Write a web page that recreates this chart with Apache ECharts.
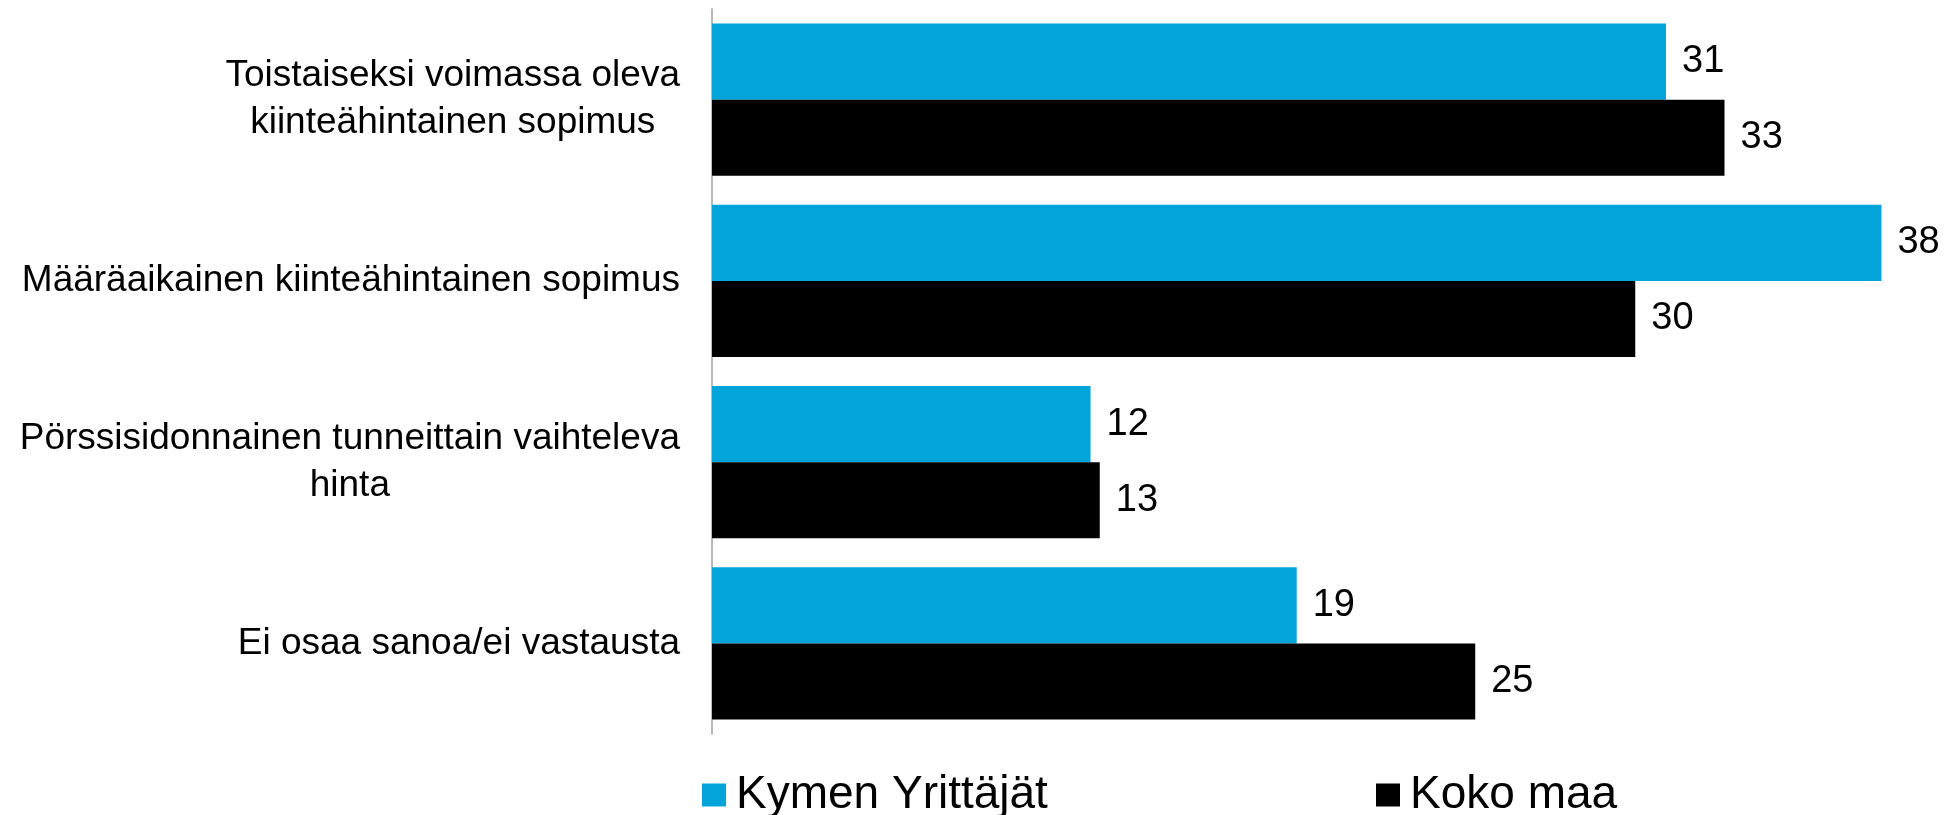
<!DOCTYPE html>
<html>
<head>
<meta charset="utf-8">
<script src="https://cdn.jsdelivr.net/npm/echarts@6/dist/echarts.min.js"></script>
<style>
  html, body { margin: 0; padding: 0; background: #fff; }
  #chart { width: 1957px; height: 815px; }
</style>
</head>
<body>
<div id="chart"></div>
<script>
  const categories = [
    'Toistaiseksi voimassa oleva\nkiinteähintainen sopimus',
    'Määräaikainen kiinteähintainen sopimus',
    'Pörssisidonnainen tunneittain vaihteleva\nhinta',
    'Ei osaa sanoa/ei vastausta'
  ]
  const seriesNames = ['Kymen Yrittäjät', 'Koko maa']
  const kymenValues = [31, 38, 12.3, 19]
  const kokoMaaValues = [32.9, 30, 12.6, 24.8]

  const font = '"Liberation Sans", Arial, sans-serif'
  const colors = ['#02a4d9', '#000000']

  const chart = echarts.init(document.getElementById('chart'))

  const makeSeries = (name, values, color) => ({
    name: name,
    type: 'bar',
    data: values,
    barGap: 0,
    barCategoryGap: '16%',
    itemStyle: { color: color },
    label: {
      show: true,
      position: 'right',
      distance: 16,
      color: '#000',
      fontFamily: font,
      fontSize: 38,
      formatter: (p) => Math.round(p.value)
    }
  })

  const legendBase = {
    top: 767,
    itemWidth: 24,
    itemHeight: 23,
    icon: 'rect',
    textStyle: {
      fontFamily: font,
      fontSize: 46,
      color: '#000',
      padding: [0, 0, 0, 5]
    }
  }

  const option = {
    animation: false,
    backgroundColor: '#fff',
    grid: { left: 712, right: 14, top: 9, bottom: 81, containLabel: false },
    legend: [
      Object.assign({}, legendBase, { left: 697, data: [seriesNames[0]] }),
      Object.assign({}, legendBase, { left: 1371, data: [seriesNames[1]] })
    ],
    xAxis: {
      type: 'value',
      min: 0,
      max: 40,
      axisLine: { show: false },
      axisTick: { show: false },
      axisLabel: { show: false },
      splitLine: { show: false }
    },
    yAxis: {
      type: 'category',
      inverse: true,
      data: categories,
      axisLine: { show: true, lineStyle: { color: '#a0a0a0', width: 1.5 } },
      axisTick: { show: false },
      axisLabel: {
        margin: 32,
        color: '#000',
        fontFamily: font,
        fontSize: 37,
        lineHeight: 47,
        formatter: (value) => value.split('\n').map(l => '{c|' + l + '}').join('\n'),
        rich: {
          c: { fontFamily: font, fontSize: 37, lineHeight: 47, color: '#000', align: 'center' }
        }
      }
    },
    series: [
      makeSeries(seriesNames[0], kymenValues, colors[0]),
      makeSeries(seriesNames[1], kokoMaaValues, colors[1])
    ]
  }

  chart.setOption(option)
</script>
</body>
</html>
